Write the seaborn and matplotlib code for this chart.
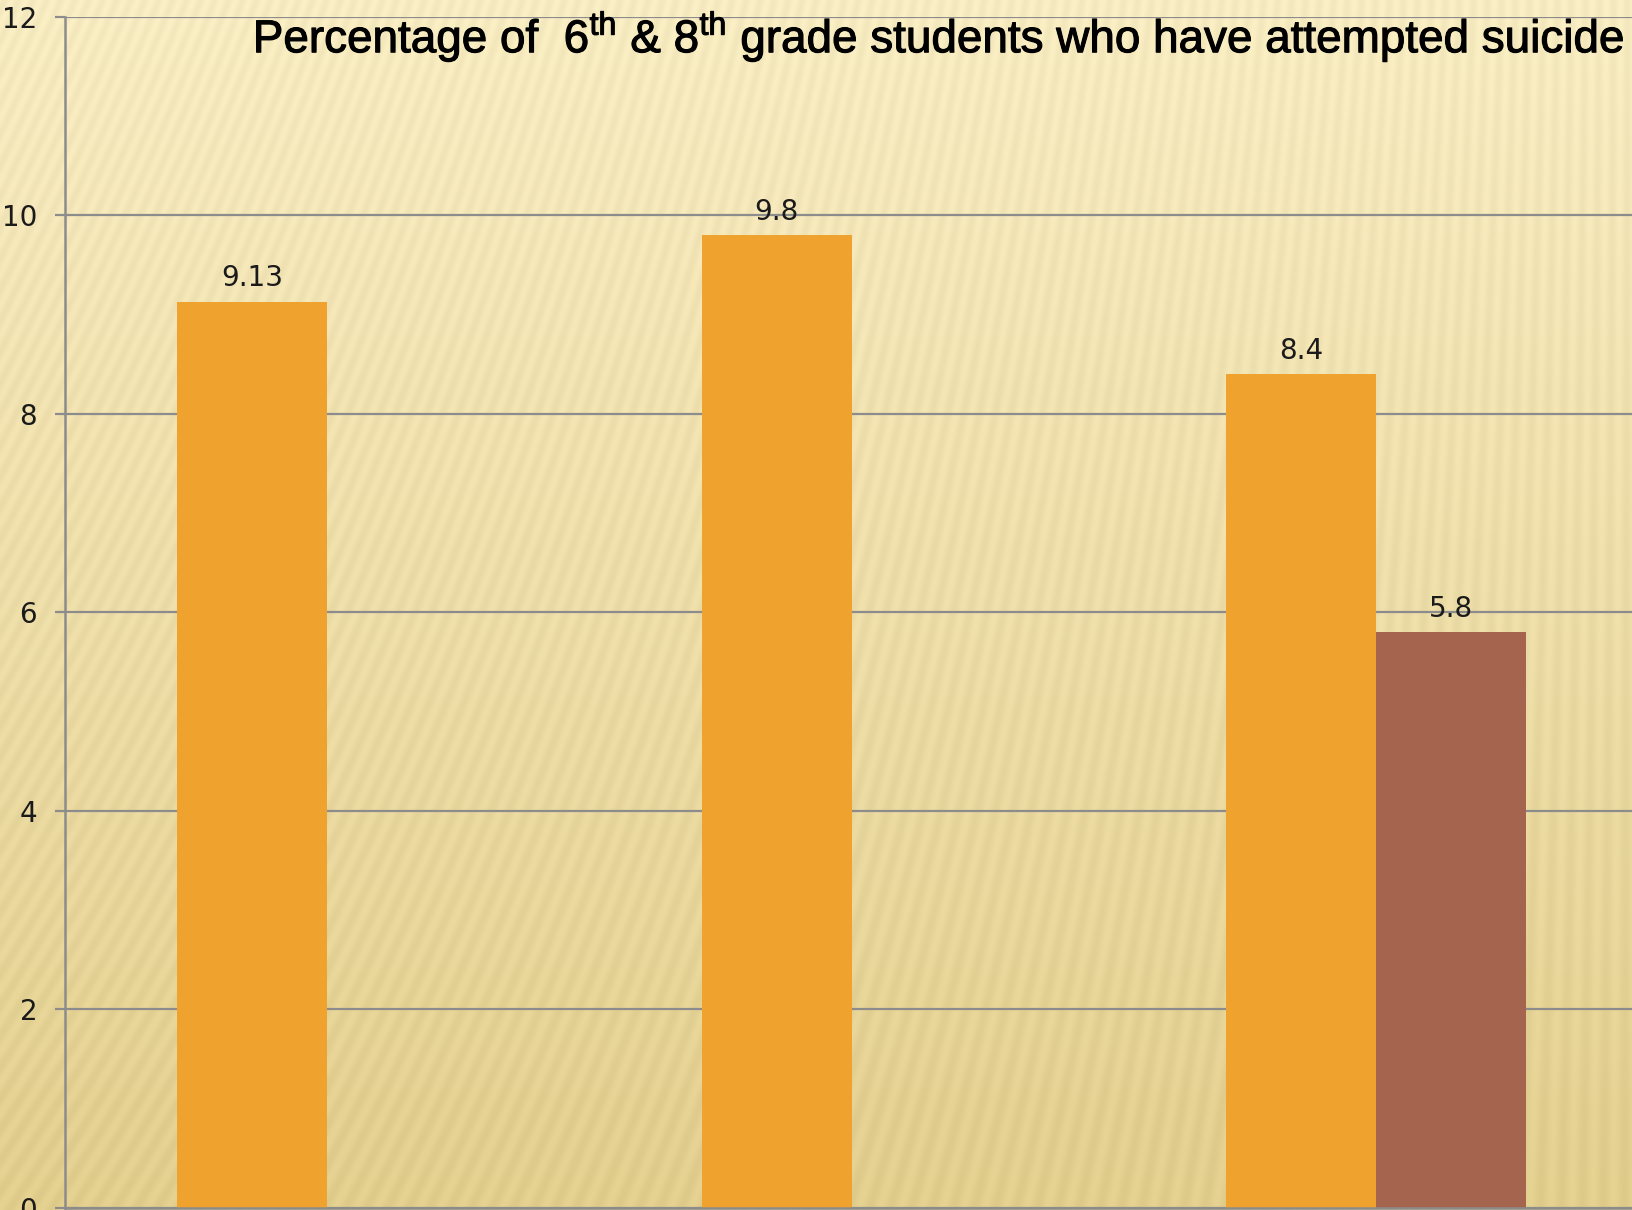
import numpy as np
import pandas as pd
import matplotlib
matplotlib.use("Agg")
import matplotlib.pyplot as plt
import matplotlib.patheffects as pe
import seaborn as sns

# ------------------ Data ------------------
groups = ["Group 1", "Group 2", "Group 3"]
series = ["Series 1", "Series 1", "Series 1", "Series 2"]
group_of = ["Group 1", "Group 2", "Group 3", "Group 3"]
values = [9.13, 9.8, 8.4, 5.8]
series_order = ["Series 1", "Series 2"]
bar_colors = ["#EFA32E", "#A5644E"]
yticks = [0, 2, 4, 6, 8, 10, 12]

df = pd.DataFrame({"group": group_of, "series": series, "value": values})

sns.set_style("white")
plt.rcParams["font.family"] = ["DejaVu Sans"]
plt.rcParams["mathtext.fontset"] = "custom"
plt.rcParams["mathtext.rm"] = "Liberation Sans"

fig = plt.figure(figsize=(16.33, 12.10), dpi=100)

# ------------------ Background (gradient + soft stripes) ------------------
h, w = 605, 817
yy, xx = np.mgrid[0:h, 0:w]
t = yy / h
top = np.array([252, 240, 198]) / 255
bot = np.array([230, 210, 145]) / 255
base = top[None, None, :] * (1 - t[..., None]) + bot[None, None, :] * t[..., None]
slant = 0.45 * (1 - xx / w)
stripes = 0.5 + 0.5 * np.sin(2 * np.pi * (xx + slant * yy) / 7.0)
bg = np.clip(base - 0.035 * stripes[..., None], 0, 1)
bg_ax = fig.add_axes([0, 0, 1, 1])
bg_ax.imshow(bg, aspect="auto", interpolation="bilinear")
bg_ax.axis("off")

# ------------------ Bar chart ------------------
ax = fig.add_axes([0.0398, 0.0017, 0.9602, 0.9843])
ax.patch.set_alpha(0)
sns.barplot(data=df, x="group", y="value", hue="series", order=groups,
            hue_order=series_order, palette=bar_colors, width=0.572,
            saturation=1, legend=False, linewidth=0, edgecolor="none", ax=ax)

for c in ax.containers:
    ax.bar_label(c, fmt="%g", padding=7, fontsize=20, color="#1a1a1a")

ax.set_ylim(0, 12)
ax.set_xlim(-0.5, 2.49)
ax.set_yticks(yticks)
ax.set_xticks([])
ax.set_xlabel("")
ax.set_ylabel("")
ax.yaxis.grid(True, color="#8C8C8C", linewidth=1.6)
ax.set_axisbelow(True)
for s in ["top", "right"]:
    ax.spines[s].set_visible(False)
for s in ["left", "bottom"]:
    ax.spines[s].set_color("#8C8C8C")
    ax.spines[s].set_linewidth(1.8)
ax.tick_params(axis="y", length=7, width=1.6, color="#8C8C8C",
               labelsize=20, pad=13, left=True, labelcolor="#1a1a1a")

title = fig.text(0.9955, 0.9565,
                 r"Percentage of  6$^{\mathrm{th}}$ & 8$^{\mathrm{th}}$ grade students who have attempted suicide",
                 ha="right", va="baseline", fontsize=33, family="Liberation Sans", color="black")
title.set_path_effects([pe.withStroke(linewidth=0.8, foreground="black")])

plt.savefig("out.png", dpi=100)
